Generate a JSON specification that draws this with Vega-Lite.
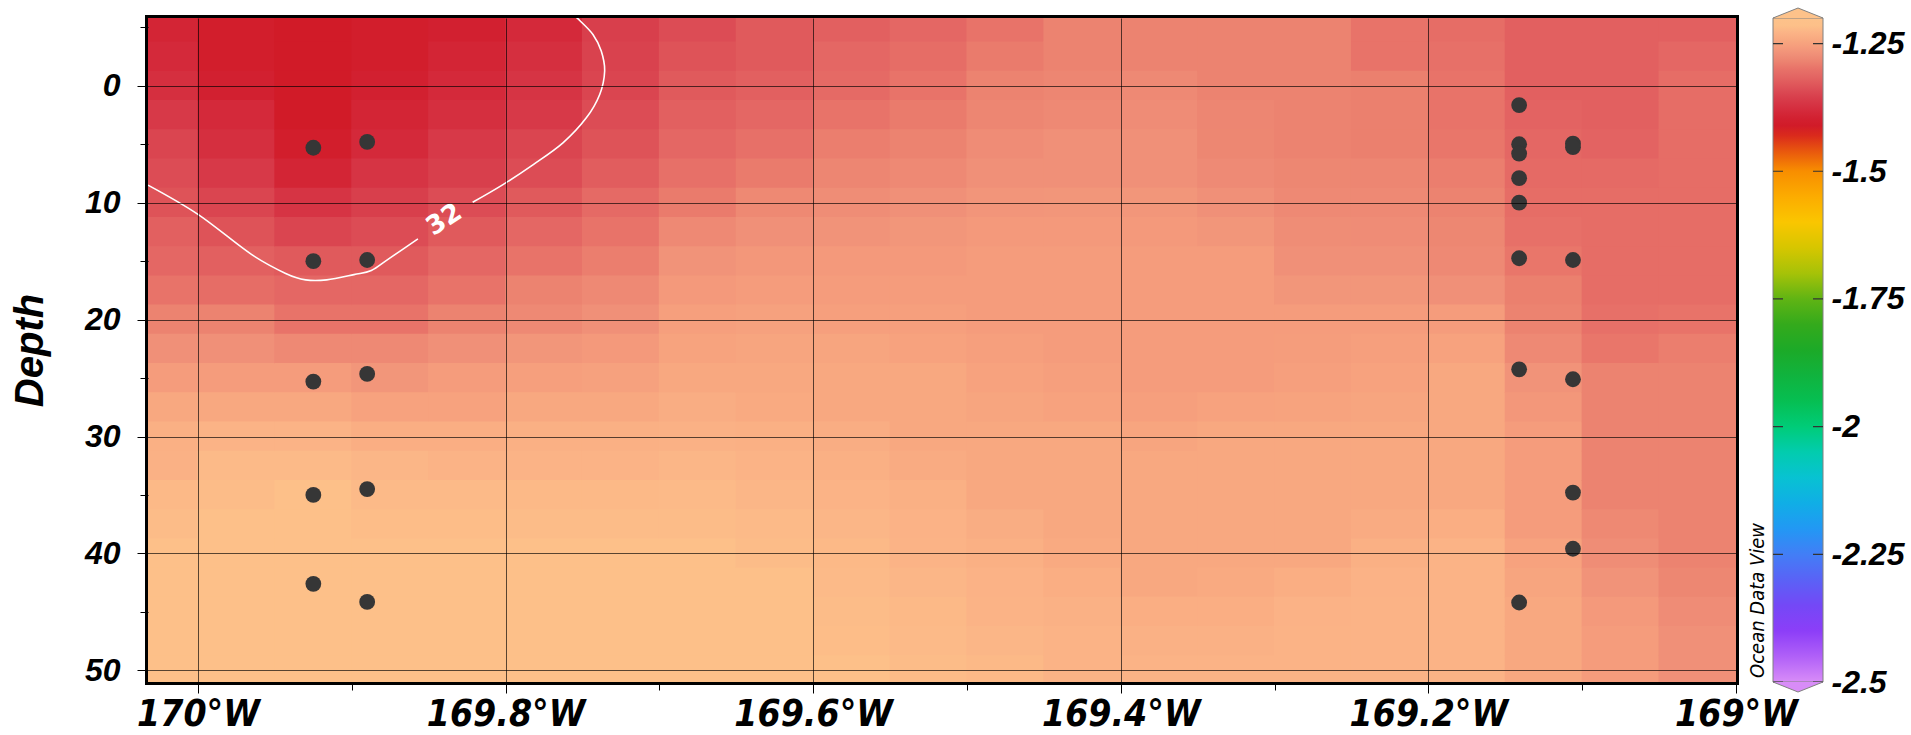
{
  "$schema": "https://vega.github.io/schema/vega-lite/v6.json",
  "background": "white",
  "padding": {"left": 7, "top": 6, "right": 4, "bottom": 0},
  "spacing": 37,
  "bounds": "flush",
  "datasets": {
    "field": [
      {"lon":-170.025,"depth":-5,"value":-1.390},{"lon":-170.025,"depth":-2.5,"value":-1.383},{"lon":-170.025,"depth":0,"value":-1.376},{"lon":-170.025,"depth":2.5,"value":-1.362},{"lon":-170.025,"depth":5,"value":-1.348},{"lon":-170.025,"depth":7.5,"value":-1.341},{"lon":-170.025,"depth":10,"value":-1.334},{"lon":-170.025,"depth":12.5,"value":-1.320},{"lon":-170.025,"depth":15,"value":-1.313},{"lon":-170.025,"depth":17.5,"value":-1.299},{"lon":-170.025,"depth":20,"value":-1.285},{"lon":-170.025,"depth":22.5,"value":-1.271},{"lon":-170.025,"depth":25,"value":-1.257},{"lon":-170.025,"depth":27.5,"value":-1.243},{"lon":-170.025,"depth":30,"value":-1.233},{"lon":-170.025,"depth":32.5,"value":-1.232},{"lon":-170.025,"depth":35,"value":-1.223},{"lon":-170.025,"depth":37.5,"value":-1.219},{"lon":-170.025,"depth":40,"value":-1.215},{"lon":-170.025,"depth":42.5,"value":-1.215},{"lon":-170.025,"depth":45,"value":-1.215},{"lon":-170.025,"depth":47.5,"value":-1.215},{"lon":-170.025,"depth":50,"value":-1.215},
      {"lon":-169.975,"depth":-5,"value":-1.404},{"lon":-169.975,"depth":-2.5,"value":-1.404},{"lon":-169.975,"depth":0,"value":-1.397},{"lon":-169.975,"depth":2.5,"value":-1.383},{"lon":-169.975,"depth":5,"value":-1.376},{"lon":-169.975,"depth":7.5,"value":-1.362},{"lon":-169.975,"depth":10,"value":-1.348},{"lon":-169.975,"depth":12.5,"value":-1.334},{"lon":-169.975,"depth":15,"value":-1.320},{"lon":-169.975,"depth":17.5,"value":-1.306},{"lon":-169.975,"depth":20,"value":-1.285},{"lon":-169.975,"depth":22.5,"value":-1.271},{"lon":-169.975,"depth":25,"value":-1.257},{"lon":-169.975,"depth":27.5,"value":-1.243},{"lon":-169.975,"depth":30,"value":-1.229},{"lon":-169.975,"depth":32.5,"value":-1.222},{"lon":-169.975,"depth":35,"value":-1.219},{"lon":-169.975,"depth":37.5,"value":-1.215},{"lon":-169.975,"depth":40,"value":-1.215},{"lon":-169.975,"depth":42.5,"value":-1.215},{"lon":-169.975,"depth":45,"value":-1.215},{"lon":-169.975,"depth":47.5,"value":-1.215},{"lon":-169.975,"depth":50,"value":-1.215},
      {"lon":-169.925,"depth":-5,"value":-1.411},{"lon":-169.925,"depth":-2.5,"value":-1.411},{"lon":-169.925,"depth":0,"value":-1.411},{"lon":-169.925,"depth":2.5,"value":-1.411},{"lon":-169.925,"depth":5,"value":-1.404},{"lon":-169.925,"depth":7.5,"value":-1.390},{"lon":-169.925,"depth":10,"value":-1.369},{"lon":-169.925,"depth":12.5,"value":-1.348},{"lon":-169.925,"depth":15,"value":-1.327},{"lon":-169.925,"depth":17.5,"value":-1.313},{"lon":-169.925,"depth":20,"value":-1.299},{"lon":-169.925,"depth":22.5,"value":-1.278},{"lon":-169.925,"depth":25,"value":-1.257},{"lon":-169.925,"depth":27.5,"value":-1.243},{"lon":-169.925,"depth":30,"value":-1.229},{"lon":-169.925,"depth":32.5,"value":-1.222},{"lon":-169.925,"depth":35,"value":-1.215},{"lon":-169.925,"depth":37.5,"value":-1.215},{"lon":-169.925,"depth":40,"value":-1.215},{"lon":-169.925,"depth":42.5,"value":-1.215},{"lon":-169.925,"depth":45,"value":-1.215},{"lon":-169.925,"depth":47.5,"value":-1.215},{"lon":-169.925,"depth":50,"value":-1.215},
      {"lon":-169.875,"depth":-5,"value":-1.404},{"lon":-169.875,"depth":-2.5,"value":-1.404},{"lon":-169.875,"depth":0,"value":-1.397},{"lon":-169.875,"depth":2.5,"value":-1.390},{"lon":-169.875,"depth":5,"value":-1.383},{"lon":-169.875,"depth":7.5,"value":-1.369},{"lon":-169.875,"depth":10,"value":-1.355},{"lon":-169.875,"depth":12.5,"value":-1.341},{"lon":-169.875,"depth":15,"value":-1.327},{"lon":-169.875,"depth":17.5,"value":-1.313},{"lon":-169.875,"depth":20,"value":-1.299},{"lon":-169.875,"depth":22.5,"value":-1.278},{"lon":-169.875,"depth":25,"value":-1.264},{"lon":-169.875,"depth":27.5,"value":-1.250},{"lon":-169.875,"depth":30,"value":-1.236},{"lon":-169.875,"depth":32.5,"value":-1.226},{"lon":-169.875,"depth":35,"value":-1.221},{"lon":-169.875,"depth":37.5,"value":-1.218},{"lon":-169.875,"depth":40,"value":-1.215},{"lon":-169.875,"depth":42.5,"value":-1.215},{"lon":-169.875,"depth":45,"value":-1.215},{"lon":-169.875,"depth":47.5,"value":-1.215},{"lon":-169.875,"depth":50,"value":-1.215},
      {"lon":-169.825,"depth":-5,"value":-1.397},{"lon":-169.825,"depth":-2.5,"value":-1.390},{"lon":-169.825,"depth":0,"value":-1.383},{"lon":-169.825,"depth":2.5,"value":-1.376},{"lon":-169.825,"depth":5,"value":-1.362},{"lon":-169.825,"depth":7.5,"value":-1.355},{"lon":-169.825,"depth":10,"value":-1.341},{"lon":-169.825,"depth":12.5,"value":-1.327},{"lon":-169.825,"depth":15,"value":-1.313},{"lon":-169.825,"depth":17.5,"value":-1.299},{"lon":-169.825,"depth":20,"value":-1.285},{"lon":-169.825,"depth":22.5,"value":-1.271},{"lon":-169.825,"depth":25,"value":-1.257},{"lon":-169.825,"depth":27.5,"value":-1.250},{"lon":-169.825,"depth":30,"value":-1.236},{"lon":-169.825,"depth":32.5,"value":-1.229},{"lon":-169.825,"depth":35,"value":-1.222},{"lon":-169.825,"depth":37.5,"value":-1.218},{"lon":-169.825,"depth":40,"value":-1.215},{"lon":-169.825,"depth":42.5,"value":-1.215},{"lon":-169.825,"depth":45,"value":-1.215},{"lon":-169.825,"depth":47.5,"value":-1.215},{"lon":-169.825,"depth":50,"value":-1.215},
      {"lon":-169.775,"depth":-5,"value":-1.383},{"lon":-169.775,"depth":-2.5,"value":-1.376},{"lon":-169.775,"depth":0,"value":-1.369},{"lon":-169.775,"depth":2.5,"value":-1.362},{"lon":-169.775,"depth":5,"value":-1.348},{"lon":-169.775,"depth":7.5,"value":-1.341},{"lon":-169.775,"depth":10,"value":-1.327},{"lon":-169.775,"depth":12.5,"value":-1.313},{"lon":-169.775,"depth":15,"value":-1.299},{"lon":-169.775,"depth":17.5,"value":-1.285},{"lon":-169.775,"depth":20,"value":-1.278},{"lon":-169.775,"depth":22.5,"value":-1.264},{"lon":-169.775,"depth":25,"value":-1.253},{"lon":-169.775,"depth":27.5,"value":-1.243},{"lon":-169.775,"depth":30,"value":-1.233},{"lon":-169.775,"depth":32.5,"value":-1.229},{"lon":-169.775,"depth":35,"value":-1.223},{"lon":-169.775,"depth":37.5,"value":-1.219},{"lon":-169.775,"depth":40,"value":-1.215},{"lon":-169.775,"depth":42.5,"value":-1.215},{"lon":-169.775,"depth":45,"value":-1.215},{"lon":-169.775,"depth":47.5,"value":-1.215},{"lon":-169.775,"depth":50,"value":-1.215},
      {"lon":-169.725,"depth":-5,"value":-1.355},{"lon":-169.725,"depth":-2.5,"value":-1.352},{"lon":-169.725,"depth":0,"value":-1.348},{"lon":-169.725,"depth":2.5,"value":-1.341},{"lon":-169.725,"depth":5,"value":-1.334},{"lon":-169.725,"depth":7.5,"value":-1.324},{"lon":-169.725,"depth":10,"value":-1.310},{"lon":-169.725,"depth":12.5,"value":-1.299},{"lon":-169.725,"depth":15,"value":-1.289},{"lon":-169.725,"depth":17.5,"value":-1.278},{"lon":-169.725,"depth":20,"value":-1.271},{"lon":-169.725,"depth":22.5,"value":-1.261},{"lon":-169.725,"depth":25,"value":-1.251},{"lon":-169.725,"depth":27.5,"value":-1.243},{"lon":-169.725,"depth":30,"value":-1.233},{"lon":-169.725,"depth":32.5,"value":-1.229},{"lon":-169.725,"depth":35,"value":-1.223},{"lon":-169.725,"depth":37.5,"value":-1.219},{"lon":-169.725,"depth":40,"value":-1.215},{"lon":-169.725,"depth":42.5,"value":-1.215},{"lon":-169.725,"depth":45,"value":-1.215},{"lon":-169.725,"depth":47.5,"value":-1.215},{"lon":-169.725,"depth":50,"value":-1.215},
      {"lon":-169.675,"depth":-5,"value":-1.341},{"lon":-169.675,"depth":-2.5,"value":-1.334},{"lon":-169.675,"depth":0,"value":-1.327},{"lon":-169.675,"depth":2.5,"value":-1.320},{"lon":-169.675,"depth":5,"value":-1.313},{"lon":-169.675,"depth":7.5,"value":-1.303},{"lon":-169.675,"depth":10,"value":-1.292},{"lon":-169.675,"depth":12.5,"value":-1.278},{"lon":-169.675,"depth":15,"value":-1.268},{"lon":-169.675,"depth":17.5,"value":-1.260},{"lon":-169.675,"depth":20,"value":-1.254},{"lon":-169.675,"depth":22.5,"value":-1.249},{"lon":-169.675,"depth":25,"value":-1.243},{"lon":-169.675,"depth":27.5,"value":-1.237},{"lon":-169.675,"depth":30,"value":-1.232},{"lon":-169.675,"depth":32.5,"value":-1.226},{"lon":-169.675,"depth":35,"value":-1.222},{"lon":-169.675,"depth":37.5,"value":-1.219},{"lon":-169.675,"depth":40,"value":-1.215},{"lon":-169.675,"depth":42.5,"value":-1.215},{"lon":-169.675,"depth":45,"value":-1.215},{"lon":-169.675,"depth":47.5,"value":-1.215},{"lon":-169.675,"depth":50,"value":-1.215},
      {"lon":-169.625,"depth":-5,"value":-1.327},{"lon":-169.625,"depth":-2.5,"value":-1.327},{"lon":-169.625,"depth":0,"value":-1.320},{"lon":-169.625,"depth":2.5,"value":-1.313},{"lon":-169.625,"depth":5,"value":-1.303},{"lon":-169.625,"depth":7.5,"value":-1.292},{"lon":-169.625,"depth":10,"value":-1.279},{"lon":-169.625,"depth":12.5,"value":-1.271},{"lon":-169.625,"depth":15,"value":-1.263},{"lon":-169.625,"depth":17.5,"value":-1.257},{"lon":-169.625,"depth":20,"value":-1.251},{"lon":-169.625,"depth":22.5,"value":-1.247},{"lon":-169.625,"depth":25,"value":-1.243},{"lon":-169.625,"depth":27.5,"value":-1.240},{"lon":-169.625,"depth":30,"value":-1.233},{"lon":-169.625,"depth":32.5,"value":-1.229},{"lon":-169.625,"depth":35,"value":-1.226},{"lon":-169.625,"depth":37.5,"value":-1.222},{"lon":-169.625,"depth":40,"value":-1.219},{"lon":-169.625,"depth":42.5,"value":-1.215},{"lon":-169.625,"depth":45,"value":-1.215},{"lon":-169.625,"depth":47.5,"value":-1.215},{"lon":-169.625,"depth":50,"value":-1.215},
      {"lon":-169.575,"depth":-5,"value":-1.320},{"lon":-169.575,"depth":-2.5,"value":-1.313},{"lon":-169.575,"depth":0,"value":-1.310},{"lon":-169.575,"depth":2.5,"value":-1.299},{"lon":-169.575,"depth":5,"value":-1.289},{"lon":-169.575,"depth":7.5,"value":-1.282},{"lon":-169.575,"depth":10,"value":-1.274},{"lon":-169.575,"depth":12.5,"value":-1.268},{"lon":-169.575,"depth":15,"value":-1.260},{"lon":-169.575,"depth":17.5,"value":-1.257},{"lon":-169.575,"depth":20,"value":-1.253},{"lon":-169.575,"depth":22.5,"value":-1.247},{"lon":-169.575,"depth":25,"value":-1.243},{"lon":-169.575,"depth":27.5,"value":-1.243},{"lon":-169.575,"depth":30,"value":-1.237},{"lon":-169.575,"depth":32.5,"value":-1.233},{"lon":-169.575,"depth":35,"value":-1.229},{"lon":-169.575,"depth":37.5,"value":-1.226},{"lon":-169.575,"depth":40,"value":-1.223},{"lon":-169.575,"depth":42.5,"value":-1.221},{"lon":-169.575,"depth":45,"value":-1.219},{"lon":-169.575,"depth":47.5,"value":-1.218},{"lon":-169.575,"depth":50,"value":-1.215},
      {"lon":-169.525,"depth":-5,"value":-1.313},{"lon":-169.525,"depth":-2.5,"value":-1.306},{"lon":-169.525,"depth":0,"value":-1.299},{"lon":-169.525,"depth":2.5,"value":-1.292},{"lon":-169.525,"depth":5,"value":-1.285},{"lon":-169.525,"depth":7.5,"value":-1.278},{"lon":-169.525,"depth":10,"value":-1.271},{"lon":-169.525,"depth":12.5,"value":-1.264},{"lon":-169.525,"depth":15,"value":-1.260},{"lon":-169.525,"depth":17.5,"value":-1.257},{"lon":-169.525,"depth":20,"value":-1.254},{"lon":-169.525,"depth":22.5,"value":-1.250},{"lon":-169.525,"depth":25,"value":-1.243},{"lon":-169.525,"depth":27.5,"value":-1.243},{"lon":-169.525,"depth":30,"value":-1.243},{"lon":-169.525,"depth":32.5,"value":-1.239},{"lon":-169.525,"depth":35,"value":-1.233},{"lon":-169.525,"depth":37.5,"value":-1.230},{"lon":-169.525,"depth":40,"value":-1.229},{"lon":-169.525,"depth":42.5,"value":-1.226},{"lon":-169.525,"depth":45,"value":-1.223},{"lon":-169.525,"depth":47.5,"value":-1.221},{"lon":-169.525,"depth":50,"value":-1.219},
      {"lon":-169.475,"depth":-5,"value":-1.299},{"lon":-169.475,"depth":-2.5,"value":-1.292},{"lon":-169.475,"depth":0,"value":-1.285},{"lon":-169.475,"depth":2.5,"value":-1.282},{"lon":-169.475,"depth":5,"value":-1.275},{"lon":-169.475,"depth":7.5,"value":-1.271},{"lon":-169.475,"depth":10,"value":-1.265},{"lon":-169.475,"depth":12.5,"value":-1.261},{"lon":-169.475,"depth":15,"value":-1.257},{"lon":-169.475,"depth":17.5,"value":-1.257},{"lon":-169.475,"depth":20,"value":-1.257},{"lon":-169.475,"depth":22.5,"value":-1.254},{"lon":-169.475,"depth":25,"value":-1.250},{"lon":-169.475,"depth":27.5,"value":-1.246},{"lon":-169.475,"depth":30,"value":-1.243},{"lon":-169.475,"depth":32.5,"value":-1.243},{"lon":-169.475,"depth":35,"value":-1.243},{"lon":-169.475,"depth":37.5,"value":-1.237},{"lon":-169.475,"depth":40,"value":-1.233},{"lon":-169.475,"depth":42.5,"value":-1.230},{"lon":-169.475,"depth":45,"value":-1.229},{"lon":-169.475,"depth":47.5,"value":-1.226},{"lon":-169.475,"depth":50,"value":-1.223},
      {"lon":-169.425,"depth":-5,"value":-1.285},{"lon":-169.425,"depth":-2.5,"value":-1.285},{"lon":-169.425,"depth":0,"value":-1.282},{"lon":-169.425,"depth":2.5,"value":-1.278},{"lon":-169.425,"depth":5,"value":-1.271},{"lon":-169.425,"depth":7.5,"value":-1.271},{"lon":-169.425,"depth":10,"value":-1.264},{"lon":-169.425,"depth":12.5,"value":-1.260},{"lon":-169.425,"depth":15,"value":-1.257},{"lon":-169.425,"depth":17.5,"value":-1.257},{"lon":-169.425,"depth":20,"value":-1.257},{"lon":-169.425,"depth":22.5,"value":-1.257},{"lon":-169.425,"depth":25,"value":-1.254},{"lon":-169.425,"depth":27.5,"value":-1.250},{"lon":-169.425,"depth":30,"value":-1.243},{"lon":-169.425,"depth":32.5,"value":-1.243},{"lon":-169.425,"depth":35,"value":-1.243},{"lon":-169.425,"depth":37.5,"value":-1.243},{"lon":-169.425,"depth":40,"value":-1.240},{"lon":-169.425,"depth":42.5,"value":-1.236},{"lon":-169.425,"depth":45,"value":-1.232},{"lon":-169.425,"depth":47.5,"value":-1.229},{"lon":-169.425,"depth":50,"value":-1.229},
      {"lon":-169.375,"depth":-5,"value":-1.285},{"lon":-169.375,"depth":-2.5,"value":-1.285},{"lon":-169.375,"depth":0,"value":-1.278},{"lon":-169.375,"depth":2.5,"value":-1.275},{"lon":-169.375,"depth":5,"value":-1.271},{"lon":-169.375,"depth":7.5,"value":-1.271},{"lon":-169.375,"depth":10,"value":-1.264},{"lon":-169.375,"depth":12.5,"value":-1.260},{"lon":-169.375,"depth":15,"value":-1.257},{"lon":-169.375,"depth":17.5,"value":-1.257},{"lon":-169.375,"depth":20,"value":-1.257},{"lon":-169.375,"depth":22.5,"value":-1.257},{"lon":-169.375,"depth":25,"value":-1.257},{"lon":-169.375,"depth":27.5,"value":-1.253},{"lon":-169.375,"depth":30,"value":-1.246},{"lon":-169.375,"depth":32.5,"value":-1.243},{"lon":-169.375,"depth":35,"value":-1.243},{"lon":-169.375,"depth":37.5,"value":-1.243},{"lon":-169.375,"depth":40,"value":-1.243},{"lon":-169.375,"depth":42.5,"value":-1.243},{"lon":-169.375,"depth":45,"value":-1.236},{"lon":-169.375,"depth":47.5,"value":-1.232},{"lon":-169.375,"depth":50,"value":-1.229},
      {"lon":-169.325,"depth":-5,"value":-1.285},{"lon":-169.325,"depth":-2.5,"value":-1.285},{"lon":-169.325,"depth":0,"value":-1.285},{"lon":-169.325,"depth":2.5,"value":-1.282},{"lon":-169.325,"depth":5,"value":-1.281},{"lon":-169.325,"depth":7.5,"value":-1.277},{"lon":-169.325,"depth":10,"value":-1.271},{"lon":-169.325,"depth":12.5,"value":-1.264},{"lon":-169.325,"depth":15,"value":-1.257},{"lon":-169.325,"depth":17.5,"value":-1.257},{"lon":-169.325,"depth":20,"value":-1.257},{"lon":-169.325,"depth":22.5,"value":-1.257},{"lon":-169.325,"depth":25,"value":-1.257},{"lon":-169.325,"depth":27.5,"value":-1.250},{"lon":-169.325,"depth":30,"value":-1.243},{"lon":-169.325,"depth":32.5,"value":-1.243},{"lon":-169.325,"depth":35,"value":-1.243},{"lon":-169.325,"depth":37.5,"value":-1.243},{"lon":-169.325,"depth":40,"value":-1.243},{"lon":-169.325,"depth":42.5,"value":-1.240},{"lon":-169.325,"depth":45,"value":-1.236},{"lon":-169.325,"depth":47.5,"value":-1.232},{"lon":-169.325,"depth":50,"value":-1.229},
      {"lon":-169.275,"depth":-5,"value":-1.285},{"lon":-169.275,"depth":-2.5,"value":-1.285},{"lon":-169.275,"depth":0,"value":-1.285},{"lon":-169.275,"depth":2.5,"value":-1.285},{"lon":-169.275,"depth":5,"value":-1.285},{"lon":-169.275,"depth":7.5,"value":-1.281},{"lon":-169.275,"depth":10,"value":-1.278},{"lon":-169.275,"depth":12.5,"value":-1.274},{"lon":-169.275,"depth":15,"value":-1.271},{"lon":-169.275,"depth":17.5,"value":-1.264},{"lon":-169.275,"depth":20,"value":-1.257},{"lon":-169.275,"depth":22.5,"value":-1.256},{"lon":-169.275,"depth":25,"value":-1.254},{"lon":-169.275,"depth":27.5,"value":-1.249},{"lon":-169.275,"depth":30,"value":-1.243},{"lon":-169.275,"depth":32.5,"value":-1.243},{"lon":-169.275,"depth":35,"value":-1.243},{"lon":-169.275,"depth":37.5,"value":-1.243},{"lon":-169.275,"depth":40,"value":-1.243},{"lon":-169.275,"depth":42.5,"value":-1.236},{"lon":-169.275,"depth":45,"value":-1.230},{"lon":-169.275,"depth":47.5,"value":-1.229},{"lon":-169.275,"depth":50,"value":-1.229},
      {"lon":-169.225,"depth":-5,"value":-1.299},{"lon":-169.225,"depth":-2.5,"value":-1.299},{"lon":-169.225,"depth":0,"value":-1.288},{"lon":-169.225,"depth":2.5,"value":-1.288},{"lon":-169.225,"depth":5,"value":-1.288},{"lon":-169.225,"depth":7.5,"value":-1.282},{"lon":-169.225,"depth":10,"value":-1.278},{"lon":-169.225,"depth":12.5,"value":-1.275},{"lon":-169.225,"depth":15,"value":-1.271},{"lon":-169.225,"depth":17.5,"value":-1.264},{"lon":-169.225,"depth":20,"value":-1.257},{"lon":-169.225,"depth":22.5,"value":-1.254},{"lon":-169.225,"depth":25,"value":-1.250},{"lon":-169.225,"depth":27.5,"value":-1.246},{"lon":-169.225,"depth":30,"value":-1.243},{"lon":-169.225,"depth":32.5,"value":-1.243},{"lon":-169.225,"depth":35,"value":-1.243},{"lon":-169.225,"depth":37.5,"value":-1.239},{"lon":-169.225,"depth":40,"value":-1.233},{"lon":-169.225,"depth":42.5,"value":-1.230},{"lon":-169.225,"depth":45,"value":-1.229},{"lon":-169.225,"depth":47.5,"value":-1.229},{"lon":-169.225,"depth":50,"value":-1.229},
      {"lon":-169.175,"depth":-5,"value":-1.306},{"lon":-169.175,"depth":-2.5,"value":-1.303},{"lon":-169.175,"depth":0,"value":-1.299},{"lon":-169.175,"depth":2.5,"value":-1.299},{"lon":-169.175,"depth":5,"value":-1.296},{"lon":-169.175,"depth":7.5,"value":-1.289},{"lon":-169.175,"depth":10,"value":-1.285},{"lon":-169.175,"depth":12.5,"value":-1.281},{"lon":-169.175,"depth":15,"value":-1.278},{"lon":-169.175,"depth":17.5,"value":-1.271},{"lon":-169.175,"depth":20,"value":-1.257},{"lon":-169.175,"depth":22.5,"value":-1.250},{"lon":-169.175,"depth":25,"value":-1.243},{"lon":-169.175,"depth":27.5,"value":-1.243},{"lon":-169.175,"depth":30,"value":-1.243},{"lon":-169.175,"depth":32.5,"value":-1.243},{"lon":-169.175,"depth":35,"value":-1.243},{"lon":-169.175,"depth":37.5,"value":-1.236},{"lon":-169.175,"depth":40,"value":-1.229},{"lon":-169.175,"depth":42.5,"value":-1.229},{"lon":-169.175,"depth":45,"value":-1.229},{"lon":-169.175,"depth":47.5,"value":-1.229},{"lon":-169.175,"depth":50,"value":-1.229},
      {"lon":-169.125,"depth":-5,"value":-1.320},{"lon":-169.125,"depth":-2.5,"value":-1.320},{"lon":-169.125,"depth":0,"value":-1.320},{"lon":-169.125,"depth":2.5,"value":-1.317},{"lon":-169.125,"depth":5,"value":-1.313},{"lon":-169.125,"depth":7.5,"value":-1.310},{"lon":-169.125,"depth":10,"value":-1.306},{"lon":-169.125,"depth":12.5,"value":-1.303},{"lon":-169.125,"depth":15,"value":-1.296},{"lon":-169.125,"depth":17.5,"value":-1.288},{"lon":-169.125,"depth":20,"value":-1.285},{"lon":-169.125,"depth":22.5,"value":-1.278},{"lon":-169.125,"depth":25,"value":-1.268},{"lon":-169.125,"depth":27.5,"value":-1.263},{"lon":-169.125,"depth":30,"value":-1.257},{"lon":-169.125,"depth":32.5,"value":-1.257},{"lon":-169.125,"depth":35,"value":-1.257},{"lon":-169.125,"depth":37.5,"value":-1.257},{"lon":-169.125,"depth":40,"value":-1.250},{"lon":-169.125,"depth":42.5,"value":-1.246},{"lon":-169.125,"depth":45,"value":-1.243},{"lon":-169.125,"depth":47.5,"value":-1.243},{"lon":-169.125,"depth":50,"value":-1.243},
      {"lon":-169.075,"depth":-5,"value":-1.320},{"lon":-169.075,"depth":-2.5,"value":-1.320},{"lon":-169.075,"depth":0,"value":-1.320},{"lon":-169.075,"depth":2.5,"value":-1.320},{"lon":-169.075,"depth":5,"value":-1.317},{"lon":-169.075,"depth":7.5,"value":-1.310},{"lon":-169.075,"depth":10,"value":-1.306},{"lon":-169.075,"depth":12.5,"value":-1.306},{"lon":-169.075,"depth":15,"value":-1.306},{"lon":-169.075,"depth":17.5,"value":-1.306},{"lon":-169.075,"depth":20,"value":-1.303},{"lon":-169.075,"depth":22.5,"value":-1.296},{"lon":-169.075,"depth":25,"value":-1.285},{"lon":-169.075,"depth":27.5,"value":-1.285},{"lon":-169.075,"depth":30,"value":-1.285},{"lon":-169.075,"depth":32.5,"value":-1.285},{"lon":-169.075,"depth":35,"value":-1.285},{"lon":-169.075,"depth":37.5,"value":-1.279},{"lon":-169.075,"depth":40,"value":-1.274},{"lon":-169.075,"depth":42.5,"value":-1.267},{"lon":-169.075,"depth":45,"value":-1.260},{"lon":-169.075,"depth":47.5,"value":-1.257},{"lon":-169.075,"depth":50,"value":-1.257},
      {"lon":-169.025,"depth":-5,"value":-1.320},{"lon":-169.025,"depth":-2.5,"value":-1.313},{"lon":-169.025,"depth":0,"value":-1.306},{"lon":-169.025,"depth":2.5,"value":-1.306},{"lon":-169.025,"depth":5,"value":-1.306},{"lon":-169.025,"depth":7.5,"value":-1.306},{"lon":-169.025,"depth":10,"value":-1.306},{"lon":-169.025,"depth":12.5,"value":-1.306},{"lon":-169.025,"depth":15,"value":-1.306},{"lon":-169.025,"depth":17.5,"value":-1.306},{"lon":-169.025,"depth":20,"value":-1.299},{"lon":-169.025,"depth":22.5,"value":-1.289},{"lon":-169.025,"depth":25,"value":-1.285},{"lon":-169.025,"depth":27.5,"value":-1.285},{"lon":-169.025,"depth":30,"value":-1.285},{"lon":-169.025,"depth":32.5,"value":-1.285},{"lon":-169.025,"depth":35,"value":-1.285},{"lon":-169.025,"depth":37.5,"value":-1.285},{"lon":-169.025,"depth":40,"value":-1.285},{"lon":-169.025,"depth":42.5,"value":-1.281},{"lon":-169.025,"depth":45,"value":-1.275},{"lon":-169.025,"depth":47.5,"value":-1.271},{"lon":-169.025,"depth":50,"value":-1.271}
    ],
    "contour": [
      {"seg":"a","i":0,"lon":-170.0325,"depth":8.5},{"seg":"a","i":1,"lon":-170.0,"depth":11.0},{"seg":"a","i":2,"lon":-169.9655,"depth":14.4},{"seg":"a","i":3,"lon":-169.943,"depth":16.05},{"seg":"a","i":4,"lon":-169.93,"depth":16.6},{"seg":"a","i":5,"lon":-169.9163,"depth":16.6},{"seg":"a","i":6,"lon":-169.8986,"depth":16.15},{"seg":"a","i":7,"lon":-169.8873,"depth":15.8},{"seg":"a","i":8,"lon":-169.876,"depth":14.8},{"seg":"a","i":9,"lon":-169.857,"depth":13.1},
      {"seg":"b","i":0,"lon":-169.8214,"depth":9.96},{"seg":"b","i":1,"lon":-169.8017,"depth":8.45},{"seg":"b","i":2,"lon":-169.782,"depth":6.74},{"seg":"b","i":3,"lon":-169.7627,"depth":4.88},{"seg":"b","i":4,"lon":-169.7475,"depth":2.74},{"seg":"b","i":5,"lon":-169.7388,"depth":0.74},{"seg":"b","i":6,"lon":-169.7356,"depth":-1.25},{"seg":"b","i":7,"lon":-169.7378,"depth":-2.97},{"seg":"b","i":8,"lon":-169.7432,"depth":-4.39},{"seg":"b","i":9,"lon":-169.7518,"depth":-5.59},{"seg":"b","i":10,"lon":-169.7545,"depth":-5.9}
    ],
    "stations": [
      {"lon":-169.925,"depth":5.3},{"lon":-169.925,"depth":15.0},{"lon":-169.925,"depth":25.3},{"lon":-169.925,"depth":35.0},{"lon":-169.925,"depth":42.6},
      {"lon":-169.89,"depth":4.8},{"lon":-169.89,"depth":14.9},{"lon":-169.89,"depth":24.65},{"lon":-169.89,"depth":34.5},{"lon":-169.89,"depth":44.15},
      {"lon":-169.141,"depth":1.65},{"lon":-169.141,"depth":5.0},{"lon":-169.141,"depth":5.8},{"lon":-169.141,"depth":7.9},{"lon":-169.141,"depth":10.0},{"lon":-169.141,"depth":14.75},{"lon":-169.141,"depth":24.25},{"lon":-169.141,"depth":44.2},
      {"lon":-169.106,"depth":4.95},{"lon":-169.106,"depth":5.25},{"lon":-169.106,"depth":14.9},{"lon":-169.106,"depth":25.1},{"lon":-169.106,"depth":34.8},{"lon":-169.106,"depth":39.6}
    ]
  },
  "hconcat": [
    {
      "width": 1588,
      "height": 664,
      "view": {"stroke": "#000000", "strokeWidth": 6},
      "encoding": {
        "x": {
          "field": "lon", "type": "quantitative",
          "scale": {"domain": [-170.0325, -169.0], "nice": false, "zero": false},
          "axis": {
            "values": [-170, -169.9, -169.8, -169.7, -169.6, -169.5, -169.4, -169.3, -169.2, -169.1, -169],
            "title": null, "domain": false, "zindex": 1,
            "labelExpr": "abs(round(datum.value*10)) % 2 == 0 ? format(-datum.value, '.1~f') + '°W' : ''",
            "tickSize": {"condition": {"test": "abs(round(datum.value*10)) % 2 == 0", "value": 11}, "value": 8},
            "tickColor": "#000000", "tickWidth": 1,
            "grid": true, "gridColor": "#000000", "gridWidth": 1,
            "gridOpacity": {"condition": {"test": "abs(round(datum.value*10)) % 2 == 0", "value": 0.65}, "value": 0},
            "labelFont": "'Liberation Sans Narrow', 'DejaVu Sans Condensed', sans-serif",
            "labelFontSize": 37, "labelFontStyle": "italic", "labelFontWeight": "bold",
            "labelColor": "#000000", "labelPadding": 3, "labelFlush": false, "labelOverlap": false
          }
        },
        "y": {
          "field": "depth", "type": "quantitative",
          "scale": {"domain": [-5.8, 51.0], "reverse": true, "nice": false, "zero": false},
          "axis": {
            "values": [-5, 0, 5, 10, 15, 20, 25, 30, 35, 40, 45, 50],
            "title": "Depth", "domain": false, "zindex": 1,
            "labelExpr": "datum.value % 10 == 0 ? datum.label : ''",
            "tickSize": {"condition": {"test": "datum.value % 10 == 0", "value": 11}, "value": 8},
            "tickColor": "#000000", "tickWidth": 1,
            "grid": true, "gridColor": "#000000", "gridWidth": 1,
            "gridOpacity": {"condition": {"test": "datum.value % 10 == 0", "value": 0.65}, "value": 0},
            "labelFont": "Liberation Sans", "labelFontSize": 32, "labelFontStyle": "italic", "labelFontWeight": "bold",
            "labelColor": "#000000", "labelPadding": 17, "labelFlush": false, "labelOverlap": false,
            "titleFont": "Liberation Sans", "titleFontSize": 40, "titleFontStyle": "italic", "titleFontWeight": "bold",
            "titleColor": "#000000", "titlePadding": 34
          }
        }
      },
      "layer": [
        {
          "data": {"name": "field"},
          "mark": {"type": "rect", "width": 78, "height": 30, "clip": true},
          "encoding": {
            "color": {
              "field": "value", "type": "quantitative", "legend": null,
              "scale": {
                "interpolate": "rgb",
                "domain": [-2.5, -2.45, -2.4, -2.35, -2.3, -2.25, -2.2, -2.15, -2.1, -2.05, -2.0, -1.95, -1.9, -1.85, -1.8, -1.75, -1.7, -1.65, -1.6, -1.55, -1.5, -1.46, -1.43, -1.411, -1.397, -1.383, -1.369, -1.355, -1.341, -1.327, -1.313, -1.299, -1.285, -1.271, -1.257, -1.243, -1.229, -1.215, -1.2],
                "range": ["#d88cf8", "#b060f8", "#8c3ef8", "#7448f6", "#5a62f6", "#427ef6", "#2298f4", "#10aee6", "#08c2d2", "#02ccae", "#00cc78", "#06bf52", "#10b33e", "#1caa28", "#34aa1c", "#60b414", "#a6c208", "#d6c600", "#fac600", "#fcac00", "#f88e00", "#e8560e", "#da2a1c", "#d11b28", "#d22030", "#d4293a", "#d63444", "#d83f4c", "#dc4c55", "#e05a5c", "#e46764", "#e87369", "#ec8370", "#f09078", "#f59c7c", "#f8a880", "#fbb386", "#fdc089", "#fdc28a"]
              }
            }
          }
        },
        {
          "data": {"name": "contour"},
          "mark": {"type": "line", "color": "#ffffff", "strokeWidth": 1.6, "interpolate": "cardinal", "clip": true},
          "encoding": {"detail": {"field": "seg"}, "order": {"field": "i", "type": "quantitative"}}
        },
        {
          "data": {"values": [{"lon": -169.8400, "depth": 11.45, "label": "32"}]},
          "mark": {"type": "text", "font": "DejaVu Sans", "fontWeight": "bold", "fontSize": 26, "color": "#ffffff", "angle": -33, "align": "center", "baseline": "middle"},
          "encoding": {"text": {"field": "label"}}
        },
        {
          "data": {"name": "stations"},
          "mark": {"type": "circle", "size": 250, "color": "#363636", "opacity": 1}
        }
      ]
    },
    {
      "width": 50,
      "height": 664,
      "view": {"stroke": null},
      "encoding": {
        "y": {
          "field": "v", "type": "quantitative",
          "scale": {"domain": [-2.5, -1.2], "nice": false, "zero": false},
          "axis": {
            "orient": "right", "values": [-2.5, -2.25, -2, -1.75, -1.5, -1.25],
            "labelExpr": "'' + datum.value", "ticks": false, "domain": false, "grid": false, "title": null,
            "labelFont": "Liberation Sans", "labelFontSize": 32, "labelFontStyle": "italic", "labelFontWeight": "bold",
            "labelColor": "#000000", "labelPadding": 8, "labelFlush": false, "labelOverlap": false
          }
        }
      },
      "layer": [
        {
          "data": {"values": [{"v": -2.5, "hi": -1.2}]},
          "mark": {
            "type": "rect", "stroke": "#808080", "strokeWidth": 1,
            "fill": {
              "gradient": "linear", "x1": 0, "y1": 1, "x2": 0, "y2": 0,
              "stops": [
                {"offset": 0, "color": "#d88cf8"}, {"offset": 0.0385, "color": "#b060f8"}, {"offset": 0.0769, "color": "#8c3ef8"},
                {"offset": 0.1154, "color": "#7448f6"}, {"offset": 0.1538, "color": "#5a62f6"}, {"offset": 0.1923, "color": "#427ef6"},
                {"offset": 0.2308, "color": "#2298f4"}, {"offset": 0.2692, "color": "#10aee6"}, {"offset": 0.3077, "color": "#08c2d2"},
                {"offset": 0.3462, "color": "#02ccae"}, {"offset": 0.3846, "color": "#00cc78"}, {"offset": 0.4231, "color": "#06bf52"},
                {"offset": 0.4615, "color": "#10b33e"}, {"offset": 0.5, "color": "#1caa28"}, {"offset": 0.5385, "color": "#34aa1c"},
                {"offset": 0.5769, "color": "#60b414"}, {"offset": 0.6154, "color": "#a6c208"}, {"offset": 0.6538, "color": "#d6c600"},
                {"offset": 0.6923, "color": "#fac600"}, {"offset": 0.7308, "color": "#fcac00"}, {"offset": 0.7692, "color": "#f88e00"},
                {"offset": 0.8, "color": "#e8560e"}, {"offset": 0.8231, "color": "#da2a1c"}, {"offset": 0.8377, "color": "#d11b28"},
                {"offset": 0.8485, "color": "#d22030"}, {"offset": 0.8592, "color": "#d4293a"}, {"offset": 0.87, "color": "#d63444"},
                {"offset": 0.8808, "color": "#d83f4c"}, {"offset": 0.8915, "color": "#dc4c55"}, {"offset": 0.9023, "color": "#e05a5c"},
                {"offset": 0.9131, "color": "#e46764"}, {"offset": 0.9238, "color": "#e87369"}, {"offset": 0.9346, "color": "#ec8370"},
                {"offset": 0.9454, "color": "#f09078"}, {"offset": 0.9562, "color": "#f59c7c"}, {"offset": 0.9669, "color": "#f8a880"},
                {"offset": 0.9777, "color": "#fbb386"}, {"offset": 0.9885, "color": "#fdc089"}, {"offset": 1, "color": "#fdc28a"}
              ]
            }
          },
          "encoding": {"y2": {"field": "hi"}}
        },
        {
          "data": {"values": [{"v": -1.25}, {"v": -1.5}, {"v": -1.75}, {"v": -2}, {"v": -2.25}, {"v": -2.5}]},
          "mark": {"type": "rule", "color": "#333333", "strokeWidth": 1.2, "strokeDash": [10, 30]}
        },
        {
          "data": {"values": [{"v": -1.2}]},
          "mark": {"type": "point", "shape": "M -1 0 L 0 -0.4 L 1 0", "size": 2500, "filled": true, "color": "#fdc28a", "stroke": "#808080", "strokeWidth": 1, "opacity": 1}
        },
        {
          "data": {"values": [{"v": -2.5}]},
          "mark": {"type": "point", "shape": "M -1 0 L 0 0.4 L 1 0", "size": 2500, "filled": true, "color": "#d88cf8", "stroke": "#808080", "strokeWidth": 1, "opacity": 1}
        },
        {
          "data": {"values": [{"v": -2.5, "label": "Ocean Data View"}]},
          "mark": {"type": "text", "angle": -90, "align": "left", "baseline": "middle", "dx": 4, "dy": -40, "font": "'Liberation Sans Narrow', 'DejaVu Sans Condensed', sans-serif", "fontSize": 20, "fontStyle": "italic", "color": "#000000"},
          "encoding": {"text": {"field": "label"}}
        }
      ]
    }
  ]
}
